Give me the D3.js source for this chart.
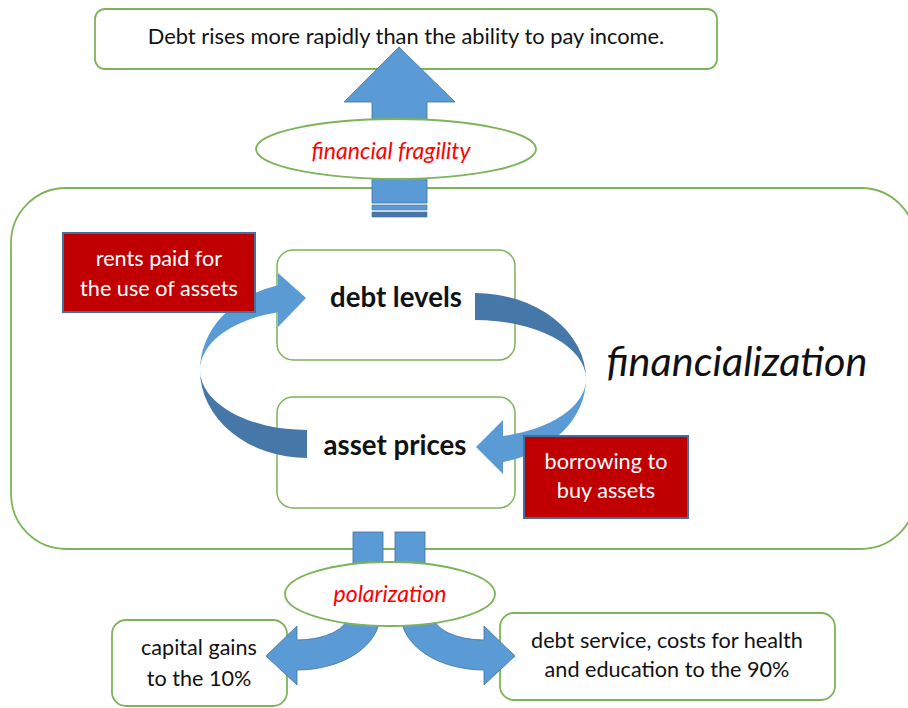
<!DOCTYPE html>
<html>
<head>
<meta charset="utf-8">
<script src="https://cdn.jsdelivr.net/npm/d3@7"></script>
<style>
  body { margin: 0; background: #fff; }
  svg { display: block; }
</style>
</head>
<body>
<svg id="chart" width="908" height="708"></svg>
<script>
// labels of the diagram
const headline = ['Debt rises more rapidly than the ability to pay income.'];
const ovalLabels = ['financial fragility', 'polarization'];
const cycleLabels = ['debt levels', 'asset prices'];
const driverLines = [['rents paid for', 'the use of assets'], ['borrowing to', 'buy assets']];
const outcomeLines = [['capital gains', 'to the 10%'], ['debt service, costs for health', 'and education to the 90%']];
const bigLabel = ['financialization'];

const FONT = 'Lato, Calibri, "Open Sans", sans-serif';
const GREEN = '#7db45a';
const BLUE = '#5b9bd5';
const DARK = '#4677a9';
const EDGE = '#41719c';
const RED = '#c00000';

const svg = d3.select('#chart');

// layout boxes
const topBox = { x: 95, y: 9, w: 622, h: 60 };
const frame = { x: 11, y: 188, w: 905, h: 361 };
const cycleBoxes = [{ x: 277, y: 250, w: 238, h: 110 }, { x: 277, y: 397, w: 238, h: 111 }];
const driverBoxes = [{ x: 63, y: 233, w: 192, h: 79 }, { x: 524, y: 436, w: 164, h: 82 }];
const outcomeBoxes = [{ x: 112, y: 620, w: 175, h: 86 }, { x: 500, y: 613, w: 335, h: 87 }];
const ovals = [{ cx: 396, cy: 149, rx: 140, ry: 30 }, { cx: 390, cy: 594, rx: 105, ry: 32 }];

function box(b, r, fill, stroke, sw) {
  return svg.append('rect')
    .attr('x', b.x).attr('y', b.y)
    .attr('width', b.w).attr('height', b.h)
    .attr('rx', r).attr('ry', r)
    .attr('fill', fill).attr('stroke', stroke).attr('stroke-width', sw);
}

// write lines centred on (cx, cy), font size fitted so the widest line gets width
function label(lines, cx, cy, gap, width, opts) {
  const g = svg.append('g')
    .attr('font-family', FONT)
    .attr('font-size', 20)
    .attr('font-weight', opts.bold ? 'bold' : 'normal')
    .attr('font-style', opts.italic ? 'italic' : 'normal')
    .attr('fill', opts.color || '#111')
    .attr('text-anchor', 'middle');
  const texts = lines.map((s, i) => g.append('text')
    .attr('x', cx)
    .attr('y', cy + (i - (lines.length - 1) / 2) * gap)
    .attr('dy', '0.35em')
    .text(s));
  const widest = d3.max(texts, t => t.node().getComputedTextLength());
  g.attr('font-size', 20 * width / widest);
  return g;
}

// background frames
box(frame, 55, '#fff', GREEN, 1.8);
box(topBox, 10, '#fff', GREEN, 1.8);
cycleBoxes.forEach(b => box(b, 16, '#fff', GREEN, 1.5));
outcomeBoxes.forEach(b => box(b, 14, '#fff', GREEN, 1.8));

// big up arrow to the headline
const up = { tip: [399, 47], headY: 102, headL: 344, headR: 455, shL: 372, shR: 427, shB: 203 };
svg.append('path')
  .attr('d', `M${up.tip[0]},${up.tip[1]} L${up.headR},${up.headY} L${up.shR},${up.headY} L${up.shR},${up.shB}
    L${up.shL},${up.shB} L${up.shL},${up.headY} L${up.headL},${up.headY} Z`)
  .attr('fill', BLUE).attr('stroke', EDGE).attr('stroke-width', 0.8);
[[205, 210, BLUE], [212, 217, DARK]].forEach(([y0, y1, c]) => {
  svg.append('rect').attr('x', up.shL).attr('y', y0)
    .attr('width', up.shR - up.shL).attr('height', y1 - y0)
    .attr('fill', c).attr('stroke', EDGE).attr('stroke-width', 0.6);
});

// two stubs leaving the frame downwards
[[353, 383], [395, 425]].forEach(([x0, x1]) => {
  svg.append('rect').attr('x', x0).attr('y', 532)
    .attr('width', x1 - x0).attr('height', 50)
    .attr('fill', BLUE).attr('stroke', EDGE).attr('stroke-width', 0.8);
});

// curved arrow: band between two ellipses sharing their far point
function ey(c, ry, rx, x, sign) {
  const dx = (x - c[0]) / rx;
  return c[1] + sign * ry * Math.sqrt(1 - dx * dx);
}

// left loop: asset prices -> debt levels
(function () {
  const c = [307, 370], rx = 107, ro = 88, ri = 60, neck = 278;
  const far = [c[0] - rx, c[1]];
  const yo = ey(c, ro, rx, neck, -1), yi = ey(c, ri, rx, neck, -1);
  svg.append('path')
    .attr('d', `M${far} A${rx},${ro} 0 0 0 ${c[0]},${c[1] + ro} L${c[0]},${c[1] + ri} A${rx},${ri} 0 0 1 ${far} Z`)
    .attr('fill', DARK);
  svg.append('path')
    .attr('d', `M${far} A${rx},${ro} 0 0 1 ${neck},${yo} L${neck},273 L306,298 L${neck},327 L${neck},${yi}
      A${rx},${ri} 0 0 0 ${far} Z`)
    .attr('fill', BLUE);
})();

// right loop: debt levels -> asset prices
(function () {
  const c = [475, 379], rx = 111, ro = 86, ri = 59, neck = 503;
  const far = [c[0] + rx, c[1]];
  const yo = ey(c, ro, rx, neck, 1), yi = ey(c, ri, rx, neck, 1);
  svg.append('path')
    .attr('d', `M${c[0]},${c[1] - ro} A${rx},${ro} 0 0 1 ${far} A${rx},${ri} 0 0 0 ${c[0]},${c[1] - ri} Z`)
    .attr('fill', DARK);
  svg.append('path')
    .attr('d', `M${far} A${rx},${ro} 0 0 1 ${neck},${yo} L${neck},474 L476,447 L${neck},420 L${neck},${yi}
      A${rx},${ri} 0 0 0 ${far} Z`)
    .attr('fill', BLUE);
})();

// bent arrows out of polarization, mirrored about the centre line
[1, -1].forEach(s => {
  const m = x => s === 1 ? x : 781 - x;
  const sw = s === 1 ? [1, 0] : [0, 1];
  const d = `M${m(348)},600 L${m(380)},600 L${m(380)},615 A83,55 0 0 ${sw[0]} ${m(297)},670 L${m(297)},685
    L${m(266)},656 L${m(297)},626 L${m(297)},640 A51,25 0 0 ${sw[1]} ${m(348)},615 Z`;
  svg.append('path').attr('d', d)
    .attr('fill', BLUE).attr('stroke', EDGE).attr('stroke-width', 0.8);
});

// red driver boxes
driverBoxes.forEach(b => box(b, 0, RED, EDGE, 2));

// ovals
ovals.forEach(o => {
  svg.append('ellipse')
    .attr('cx', o.cx).attr('cy', o.cy).attr('rx', o.rx).attr('ry', o.ry)
    .attr('fill', '#fff').attr('stroke', GREEN).attr('stroke-width', 1.8);
});

// texts
label(headline, 406, 36, 0, 517, {});
label([ovalLabels[0]], 391, 151, 0, 159, { italic: true, color: '#ff0000' });
label([ovalLabels[1]], 390, 594, 0, 113, { italic: true, color: '#ff0000' });
label([cycleLabels[0]], 396, 297, 0, 132, { bold: true });
label([cycleLabels[1]], 395, 445, 0, 143, { bold: true });
label(driverLines[0], 159, 273, 30, 158, { color: '#fff' });
label(driverLines[1], 606, 476, 29, 123, { color: '#fff' });
label(bigLabel, 737, 362, 0, 261, { italic: true });
label(outcomeLines[0], 199, 663, 31, 116, {});
label(outcomeLines[1], 667, 655, 29, 272, {});
</script>
</body>
</html>
